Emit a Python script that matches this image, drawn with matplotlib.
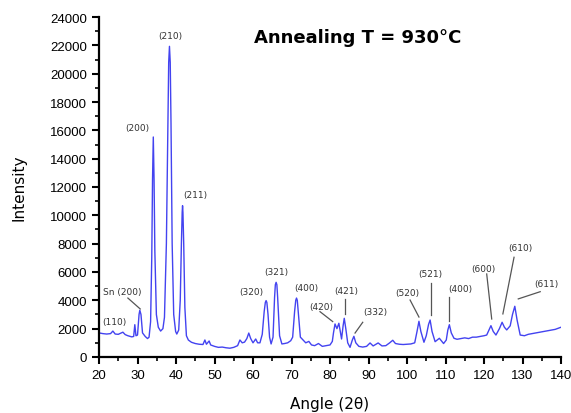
import matplotlib.pyplot as plt
from matplotlib.ticker import MultipleLocator

# XRD pattern, points
angle = [20.0, 21.0, 22.0, 23.0, 23.6, 24.2, 25.0, 26.2, 26.8, 27.5, 28.5, 29.0, 29.3, 29.6,
         30.0, 30.4, 30.6, 30.9, 31.3, 32.0, 32.6, 33.0, 33.4, 33.7, 33.9, 34.1, 34.3, 34.5,
         34.9, 35.4, 36.0, 36.6, 37.0, 37.5, 37.9, 38.1, 38.3, 38.5, 38.7, 39.0, 39.4, 39.9,
         40.2, 40.7, 41.1, 41.4, 41.6, 41.7, 41.8, 42.0, 42.3, 42.7, 43.2, 44.0, 45.0, 46.0,
         47.0, 47.5, 47.9, 48.6, 49.0, 50.0, 51.0, 52.0, 53.0, 54.0, 55.0, 56.0, 56.6, 57.2,
         57.8, 58.4, 58.9, 59.4, 60.0, 60.7, 61.2, 61.8, 62.4, 62.9, 63.2, 63.4, 63.6, 63.9,
         64.3, 64.7, 65.2, 65.6, 65.8, 66.0, 66.2, 66.4, 66.9, 67.5, 68.2, 69.0, 69.8, 70.3,
         70.8, 71.1, 71.3, 71.5, 71.8, 72.3, 73.0, 73.7, 74.5, 75.2, 76.0, 77.0, 78.0, 79.0,
         80.0, 80.6, 80.9, 81.3, 81.8, 82.3, 83.0, 83.4, 83.7, 84.1, 84.6, 85.2, 85.8, 86.2,
         86.7, 87.5, 88.5, 89.5, 90.4, 91.2, 92.5, 93.5, 94.5, 95.5, 96.3, 97.0, 98.0, 99.0,
         100.0, 101.0, 102.0, 102.6, 103.1, 103.6, 104.4, 105.0, 105.6, 106.0, 106.5, 107.3,
         108.4, 109.5, 110.2, 110.6, 111.0, 111.5, 112.2, 113.0, 114.0, 115.0, 116.0, 117.0,
         118.0, 119.0, 120.0, 120.7, 121.3, 121.8, 122.4, 123.1, 124.0, 124.7, 125.3, 125.9,
         126.8, 127.4, 128.0, 128.6, 129.4, 130.5, 131.5, 132.5, 133.5, 134.5, 135.5, 136.5,
         137.5, 138.5, 139.5, 140.0]
intensity = [1700, 1650, 1620, 1650, 1830, 1620, 1600, 1750, 1580, 1500, 1420, 1450, 2280, 1500,
             1550, 3000, 3300, 3000, 1700, 1450, 1300, 1400, 2500, 7000, 12500, 15530, 12500, 7500,
             3000, 2100, 1830, 2000, 2800, 8000, 16500, 20800, 21930, 20800, 16500, 8000, 3000, 1800,
             1620, 1900, 4000, 8000, 10200, 10680, 10200, 8000, 3500, 1500, 1200, 1040, 950, 900,
             880, 1200, 900, 1130, 850, 750, 680, 700, 650, 620, 680, 800, 1200, 1000,
             1050, 1300, 1690, 1300, 1000, 1270, 1000, 1000, 1600, 3200, 3850, 3980, 3850, 3000,
             1400, 920, 1400, 4200, 5100, 5270, 5100, 4200, 1500, 920, 950, 1000, 1150, 1400,
             3200, 4000, 4160, 4000, 3000, 1400, 1200, 1000, 1100, 850, 800, 950, 750, 800,
             850, 1100, 1700, 2330, 2000, 2380, 1270, 2200, 2730, 2000, 1000, 680, 1200, 1460,
             1000, 750, 700, 750, 990, 780, 990, 780, 800, 1000, 1180, 950, 900, 880,
             900, 920, 1000, 1800, 2520, 1800, 1040, 1500, 2300, 2610, 1800, 1080,
             1320, 950, 1200, 1900, 2280, 1700, 1320, 1250, 1300, 1350, 1300, 1400,
             1400, 1450, 1500, 1550, 1900, 2210, 1800, 1550, 2000, 2450, 2100, 1910,
             2200, 3000, 3580, 2600, 1550, 1500, 1600, 1650, 1700, 1750, 1800, 1850,
             1900, 1950, 2050, 2100]

# peak labels: text, text position, leader line (start, end) or None
labels = ['(110)', 'Sn (200)', '(200)', '(210)', '(211)', '(320)', '(321)', '(400)', '(420)',
          '(421)', '(332)', '(520)', '(521)', '(400)', '(600)', '(610)', '(611)']
label_x = [24.0, 26.0, 29.9, 38.4, 44.9, 59.5, 66.0, 73.8, 77.8, 84.2, 91.7, 100.1, 106.0,
           113.8, 119.8, 129.4, 136.1]
label_y = [2470, 4590, 16230, 22660, 11500, 4590, 6070, 4870, 3550, 4660, 3180, 4570, 5860,
           4800, 6280, 7740, 5200]
leaders = [None, ((27.5, 4160), (30.7, 3390)), None, None, None, None, None, None,
           ((77.4, 3200), (80.7, 2500)), ((83.9, 4100), (83.9, 3000)),
           ((88.5, 2450), (86.5, 1690)), ((100.8, 4020), (103.1, 2820)),
           ((106.2, 5220), (106.2, 2960)), ((110.9, 4240), (110.9, 2540)),
           ((120.7, 5860), (122.0, 2680)), ((127.8, 7040), (124.9, 3040)),
           ((134.6, 4610), (128.9, 4100))]

fig = plt.figure(figsize=(5.71, 4.14), dpi=100)
ax = fig.add_axes([0.1734, 0.1353, 0.8091, 0.8212])

ax.plot(angle, intensity, color='#4343f0', lw=1.0)

for t, x, y, ld in zip(labels, label_x, label_y, leaders):
    ax.text(x, y, t, ha='center', va='center', fontsize=6.5, color='#333333',
            family='DejaVu Sans')
    if ld is not None:
        ax.plot([ld[0][0], ld[1][0]], [ld[0][1], ld[1][1]], color='#555555', lw=0.9)

ax.text(87.3, 22600, 'Annealing T = 930°C', ha='center', va='center', fontsize=13,
        fontweight='bold', family='DejaVu Sans')

ax.set_xlim(20, 140)
ax.set_ylim(0, 24000)
ax.xaxis.set_major_locator(MultipleLocator(10))
ax.xaxis.set_minor_locator(MultipleLocator(5))
ax.yaxis.set_major_locator(MultipleLocator(2000))
ax.yaxis.set_minor_locator(MultipleLocator(1000))
for s in ['top', 'right']:
    ax.spines[s].set_visible(False)
for s in ['left', 'bottom']:
    ax.spines[s].set_linewidth(1.6)
ax.tick_params(which='major', direction='out', length=5, width=1.5, labelsize=9.5)
ax.tick_params(which='minor', direction='out', length=3, width=1.2)
for lb in ax.get_xticklabels() + ax.get_yticklabels():
    lb.set_family('Liberation Sans')

ax.set_xlabel('Angle (2θ)', fontsize=11, labelpad=11)
ax.set_ylabel('Intensity', fontsize=11, labelpad=17)

fig.savefig('out.png', dpi=100)
